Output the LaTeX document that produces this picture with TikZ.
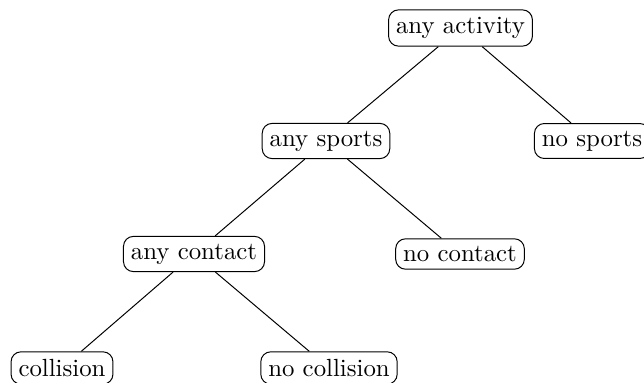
\documentclass[tikz,border=0pt]{standalone}
\begin{document}
\begin{tikzpicture}[x=0.403pt,y=-0.403pt,
  box/.style={draw,rounded corners=4pt,inner sep=3pt,font=\fontsize{10pt}{12pt}\selectfont}]
\useasboundingbox (0,0) rectangle (644,383);
\node[box] (act) at (460.5,28) {any activity};
\node[box] (sp) at (326,141) {any sports};
\node[box] (nsp) at (592,141) {no sports};
\node[box] (con) at (194,254) {any contact};
\node[box] (ncon) at (460,254) {no contact};
\node[box] (col) at (62,368) {collision};
\node[box] (ncol) at (329,368) {no collision};
\draw (act) -- (sp);
\draw (act) -- (nsp);
\draw (sp) -- (con);
\draw (sp) -- (ncon);
\draw (con) -- (col);
\draw (con) -- (ncol);
\end{tikzpicture}
\end{document}
